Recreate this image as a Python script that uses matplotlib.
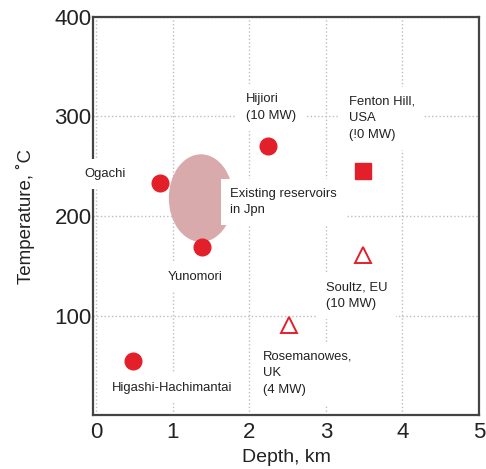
import matplotlib.pyplot as plt
from matplotlib.patches import Ellipse

plt.rcParams['font.family'] = ['Liberation Sans', 'DejaVu Sans']

# sites: depth (km), temperature (C)
jp_names = ['Ogachi', 'Yunomori', 'Hijiori', 'Higashi-Hachimantai']
jp_depth = [0.83, 1.38, 2.24, 0.48]
jp_temp = [233, 169, 270, 54]

usa_depth = [3.48]
usa_temp = [245]

eu_names = ['Soultz', 'Rosemanowes']
eu_depth = [3.49, 2.52]
eu_temp = [161, 90]

# existing reservoirs in Japan (blob)
res_depth = 1.37
res_temp = 218
res_w = 0.84
res_h = 88

# labels: text, x, y
labels = [
    ('Ogachi', -0.15, 242),
    ('Hijiori\n(10 MW)', 1.96, 309),
    ('Fenton Hill,\nUSA\n(!0 MW)', 3.30, 298),
    ('Existing reservoirs\nin Jpn', 1.75, 214),
    ('Yunomori', 0.93, 139),
    ('Higashi-Hachimantai', 0.20, 27),
    ('Soultz, EU\n(10 MW)', 3.00, 120),
    ('Rosemanowes,\nUK\n(4 MW)', 2.18, 42),
]

red = '#e3202a'

fig = plt.figure(figsize=(4.86, 4.69), dpi=100)
ax = fig.add_axes([93 / 486, 1 - 415 / 469, (479 - 93) / 486, (415 - 17) / 469])

ax.add_patch(Ellipse((res_depth, res_temp), res_w, res_h, color='#d8aaab', lw=0, zorder=2))

ax.plot(jp_depth, jp_temp, 'o', color=red, ms=12, mec=red, zorder=2.6)
ax.plot(usa_depth, usa_temp, 's', color=red, ms=11, zorder=2.6)
ax.plot(eu_depth, eu_temp, '^', mfc='white', mec=red, mew=1.4, ms=12, zorder=2.6)

for txt, x, y in labels:
    ax.text(x, y, txt, fontsize=9.4, color='#222222', ha='left', va='center',
            linespacing=1.5, zorder=3,
            bbox=dict(boxstyle='square,pad=0.7', fc='white', ec='none'))

ax.set_xlim(-0.04, 5.0)
ax.set_ylim(0, 400)
ax.set_xticks([0, 1, 2, 3, 4, 5])
ax.set_yticks([100, 200, 300, 400])
ax.tick_params(length=0, labelsize=16, colors='#222222')
ax.tick_params(axis='x', pad=5)
ax.tick_params(axis='y', pad=1)
ax.grid(True, ls=':', color='#bdbdbd', lw=1)
ax.set_axisbelow(True)

for s in ax.spines.values():
    s.set_color('#444444')
    s.set_linewidth(1.6)

ax.set_xlabel('Depth, km', fontsize=14, color='#222222', labelpad=4)
ax.set_ylabel('Temperature, ˚C', fontsize=13.5, color='#222222', labelpad=14)

fig.savefig('out.png', dpi=100)
